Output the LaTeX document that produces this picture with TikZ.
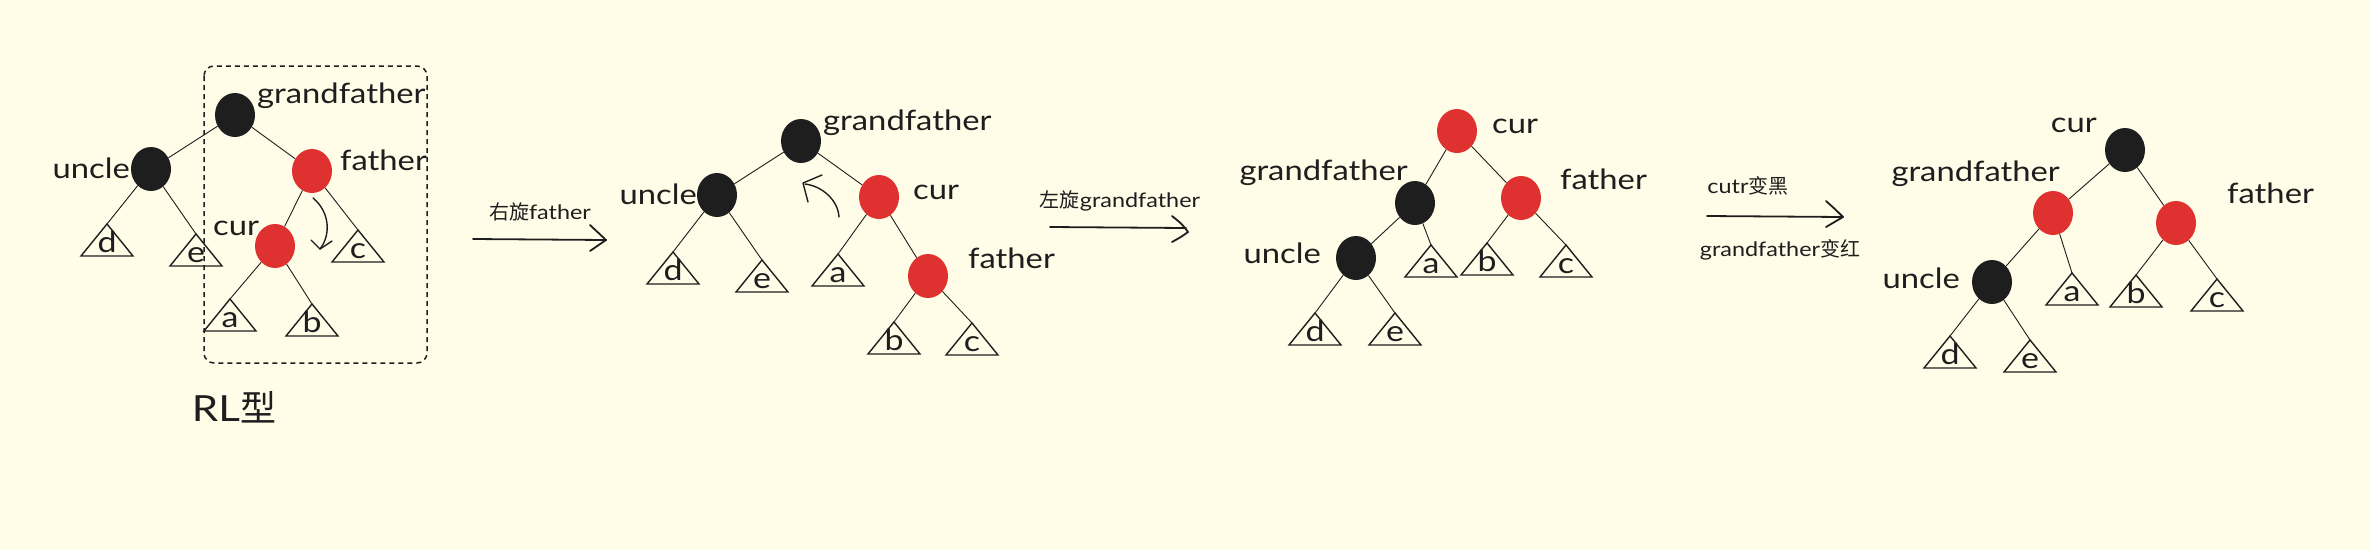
\documentclass[tikz,border=0pt]{standalone}
\usepackage{fontspec}
\setmainfont{Lato}[FakeStretch=1.17]
\newfontfamily\cjk{Noto Sans CJK SC}
\usetikzlibrary{shapes.geometric}
\definecolor{bg}{HTML}{FFFCE8}
\definecolor{ink}{HTML}{1E1E1E}
\definecolor{rednode}{HTML}{E03131}
\tikzset{
 rb/.style={ellipse, minimum width=40pt, minimum height=44pt, inner sep=0pt},
 blk/.style={rb, fill=ink},
 rd/.style={rb, fill=rednode},
 edge/.style={draw=ink, line width=0.9pt},
 tri/.style={draw=ink, line width=1.4pt, line join=miter},
 lbl/.style={font=\fontsize{28}{30}\selectfont, text=ink, inner sep=0pt, anchor=base west},
 leaf/.style={font=\fontsize{29}{30}\selectfont, text=ink, inner sep=0pt, anchor=base},
 small/.style={font=\fontsize{20}{22}\selectfont, text=ink, inner sep=0pt, anchor=base},
 hand/.style={draw=ink, line width=1.8pt, line cap=round, line join=round},
}
\newcommand\leaftri[4]{%
 \coordinate (#1) at (#2,#3);
 \draw[tri] (#1) -- ++(-26,32) -- ++(52,0) -- cycle;
 \node[leaf] (#1l) at ([yshift=-28pt]#1) {#4};}
\begin{document}
\begin{tikzpicture}[x=1pt,y=-1pt]
\useasboundingbox (0,0) rectangle (2370,550);
\fill[bg] (0,0) rectangle (2370,550);

% ---------------- tree 1 ----------------
\draw[ink, dashed, line width=1.5pt, rounded corners=10pt, dash pattern=on 5pt off 4pt] (204,66) rectangle (427,363);
\node[blk] (g1) at (235,115) {};
\node[blk] (u1) at (151,169) {};
\node[rd]  (f1) at (312,171) {};
\node[rd]  (c1) at (275,246) {};
\leaftri{t1d}{107}{224}{d}
\leaftri{t1e}{196}{234}{e}
\leaftri{t1c}{358}{230}{c}
\leaftri{t1a}{230}{299}{a}
\leaftri{t1b}{312}{304}{b}
\draw[edge] (g1) -- (u1);
\draw[edge] (g1) -- (f1);
\draw[edge] (u1) -- (t1d);
\draw[edge] (u1) -- (t1e);
\draw[edge] (f1) -- (c1);
\draw[edge] (f1) -- (t1c);
\draw[edge] (c1) -- (t1a);
\draw[edge] (c1) -- (t1b);
\node[lbl] (lg1) at (257,103) {grandfather};
\node[lbl, anchor=base east] (lu1) at (130,178) {uncle};
\node[lbl] (lf1) at (340,170) {father};
\node[lbl] (lc1) at (213,235) {cur};
\node[font=\fontsize{36}{40}\selectfont, text=ink, inner sep=0pt, anchor=base] (rl) at (234,421) {RL{\cjk 型}};
\draw[hand, line width=1.4pt] (313,198) .. controls (330,212) and (331,235) .. (320,249);
\draw[hand, line width=1.4pt] (311,240) -- (320,249) -- (332,241);

% ---------------- arrow 1 ----------------
\coordinate (a1s) at (473,239);
\coordinate (a1e) at (606,240);
\draw[hand] (a1s) -- (a1e);
\draw[hand] (590,225) .. controls (598,233) .. (a1e) .. controls (598,246) .. (590,251);
\node[small] (a1t) at (540,219) {{\cjk 右旋}father};

% ---------------- tree 2 ----------------
\node[blk] (g2) at (801,141) {};
\node[blk] (u2) at (717,195) {};
\node[rd]  (c2) at (879,197) {};
\node[rd]  (f2) at (928,276) {};
\leaftri{t2d}{673}{252}{d}
\leaftri{t2e}{762}{260}{e}
\leaftri{t2a}{838}{254}{a}
\leaftri{t2b}{894}{322}{b}
\leaftri{t2c}{972}{323}{c}
\draw[edge] (g2) -- (u2);
\draw[edge] (g2) -- (c2);
\draw[edge] (u2) -- (t2d);
\draw[edge] (u2) -- (t2e);
\draw[edge] (c2) -- (t2a);
\draw[edge] (c2) -- (f2);
\draw[edge] (f2) -- (t2b);
\draw[edge] (f2) -- (t2c);
\node[lbl] (lg2) at (823,130) {grandfather};
\node[lbl, anchor=base east] (lu2) at (697,204) {uncle};
\node[lbl] (lc2) at (913,199) {cur};
\node[lbl] (lf2) at (968,268) {father};
\draw[hand, line width=1.4pt] (839,217) .. controls (838,200) and (822,186) .. (805,184);
\draw[hand, line width=1.4pt] (822,175) -- (803,183) -- (808,202);

% ---------------- arrow 2 ----------------
\coordinate (a2s) at (1050,227);
\coordinate (a2e) at (1188,232);
\draw[hand] (a2s) -- (1186,228);
\draw[hand] (1172,216) .. controls (1182,224) .. (a2e) .. controls (1181,237) .. (1172,242);
\node[small] (a2t) at (1120,207) {{\cjk 左旋}grandfather};

% ---------------- tree 3 ----------------
\node[rd]  (c3) at (1457,131) {};
\node[blk] (g3) at (1415,203) {};
\node[rd]  (f3) at (1521,198) {};
\node[blk] (u3) at (1356,258) {};
\leaftri{t3a}{1431}{245}{a}
\leaftri{t3b}{1487}{243}{b}
\leaftri{t3c}{1566}{245}{c}
\leaftri{t3d}{1315}{313}{d}
\leaftri{t3e}{1395}{313}{e}
\draw[edge] (c3) -- (g3);
\draw[edge] (c3) -- (f3);
\draw[edge] (g3) -- (u3);
\draw[edge] (g3) -- (t3a);
\draw[edge] (u3) -- (t3d);
\draw[edge] (u3) -- (t3e);
\draw[edge] (f3) -- (t3b);
\draw[edge] (f3) -- (t3c);
\node[lbl] (lc3) at (1492,133) {cur};
\node[lbl, anchor=base east] (lg3) at (1408,180) {grandfather};
\node[lbl, anchor=base east] (lu3) at (1321,263) {uncle};
\node[lbl] (lf3) at (1560,189) {father};

% ---------------- arrow 3 ----------------
\coordinate (a3s) at (1707,216);
\coordinate (a3e) at (1843,217);
\draw[hand] (a3s) -- (a3e);
\draw[hand] (1826,201) .. controls (1836,210) .. (a3e) .. controls (1835,222) .. (1826,227);
\node[small] (a3t) at (1748,193) {cutr{\cjk 变黑}};
\node[small] (a3b) at (1780,256) {grandfather{\cjk 变红}};

% ---------------- tree 4 ----------------
\node[blk] (c4) at (2125,150) {};
\node[rd]  (g4) at (2053,213) {};
\node[rd]  (f4) at (2176,223) {};
\node[blk] (u4) at (1992,282) {};
\leaftri{t4a}{2072}{273}{a}
\leaftri{t4b}{2136}{275}{b}
\leaftri{t4c}{2217}{279}{c}
\leaftri{t4d}{1950}{336}{d}
\leaftri{t4e}{2030}{340}{e}
\draw[edge] (c4) -- (g4);
\draw[edge] (c4) -- (f4);
\draw[edge] (g4) -- (u4);
\draw[edge] (g4) -- (t4a);
\draw[edge] (u4) -- (t4d);
\draw[edge] (u4) -- (t4e);
\draw[edge] (f4) -- (t4b);
\draw[edge] (f4) -- (t4c);
\node[lbl, anchor=base east] (lc4) at (2097,132) {cur};
\node[lbl, anchor=base east] (lg4) at (2060,181) {grandfather};
\node[lbl] (lf4) at (2227,203) {father};
\node[lbl, anchor=base east] (lu4) at (1960,288) {uncle};
\end{tikzpicture}
\end{document}
